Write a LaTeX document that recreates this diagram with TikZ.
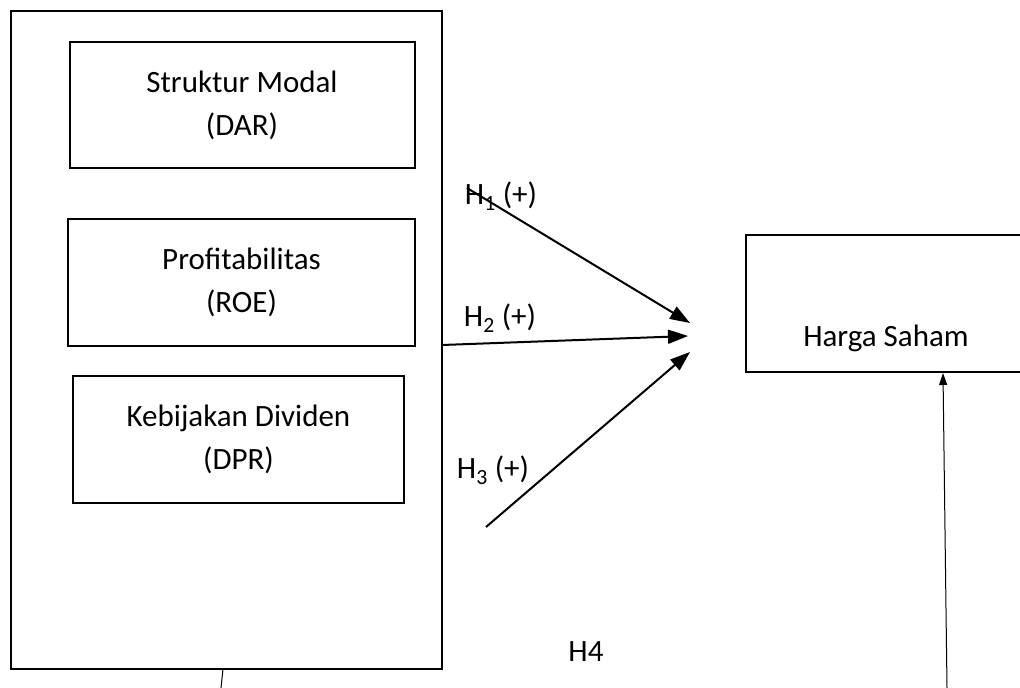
\documentclass[tikz,border=0pt]{standalone}
\usepackage{fontspec}
\setmainfont{Carlito}
\usetikzlibrary{arrows.meta,positioning}

\tikzset{
  varbox/.style={draw,line width=2pt,minimum width=345pt,minimum height=126pt,align=center,font=\fontsize{31}{43}\selectfont},
  hlabel/.style={font=\fontsize{31}{36}\selectfont,inner sep=0pt},
  hyparrow/.style={line width=2pt,-{Triangle[length=20pt,width=14pt]}},
  thinarrow/.style={line width=1pt,-{Triangle[length=12pt,width=8pt]}}
}

\begin{document}
\begin{tikzpicture}[x=1pt,y=-1pt]
        \useasboundingbox (0,0) rectangle (1020,688);

        % Independent variables
        \draw[line width=2pt] (11,11) rectangle (442,669);
        \node[varbox] (dar) at (242,105) {Struktur Modal\\(DAR)};
        \node[varbox,minimum width=347pt,minimum height=127pt] (roe) at (241.5,282.5) {Profitabilitas\\(ROE)};
        \node[varbox,minimum width=331pt,minimum height=127pt] (dpr) at (238.5,439.5) {Kebijakan Dividen\\(DPR)};

        % Dependent variable
        \node[draw,line width=2pt,minimum width=290pt,minimum height=137pt,anchor=north west] (saham) at (745,234) {};
        \node[hlabel] (sahamlbl) at (886,338) {Harga Saham};

        % Hypotheses H1 - H3
        \coordinate (h1start) at (467,188);
        \coordinate (h1end) at (690,323);
        \coordinate (h2start) at (442,345);
        \coordinate (h2end) at (688,336);
        \coordinate (h3start) at (486,527);
        \coordinate (h3end) at (690,352);
        \draw[hyparrow] (h1start) -- (h1end);
        \draw[hyparrow] (h2start) -- (h2end);
        \draw[hyparrow] (h3start) -- (h3end);
        \node[hlabel] (h1) at (501,196) {H\textsubscript{1} (+)};
        \node[hlabel] (h2) at (500,318) {H\textsubscript{2} (+)};
        \node[hlabel] (h3) at (493,470) {H\textsubscript{3} (+)};

        % H4
        \node[hlabel] (h4) at (586,652) {H4};
        \coordinate (h4left) at (221,688);
        \coordinate (h4right) at (947,688);
        \draw[line width=1pt] (223,669) -- (h4left);
        \draw[thinarrow] (h4right) -- (saham.south west -| 943,0);
\end{tikzpicture}
\end{document}
